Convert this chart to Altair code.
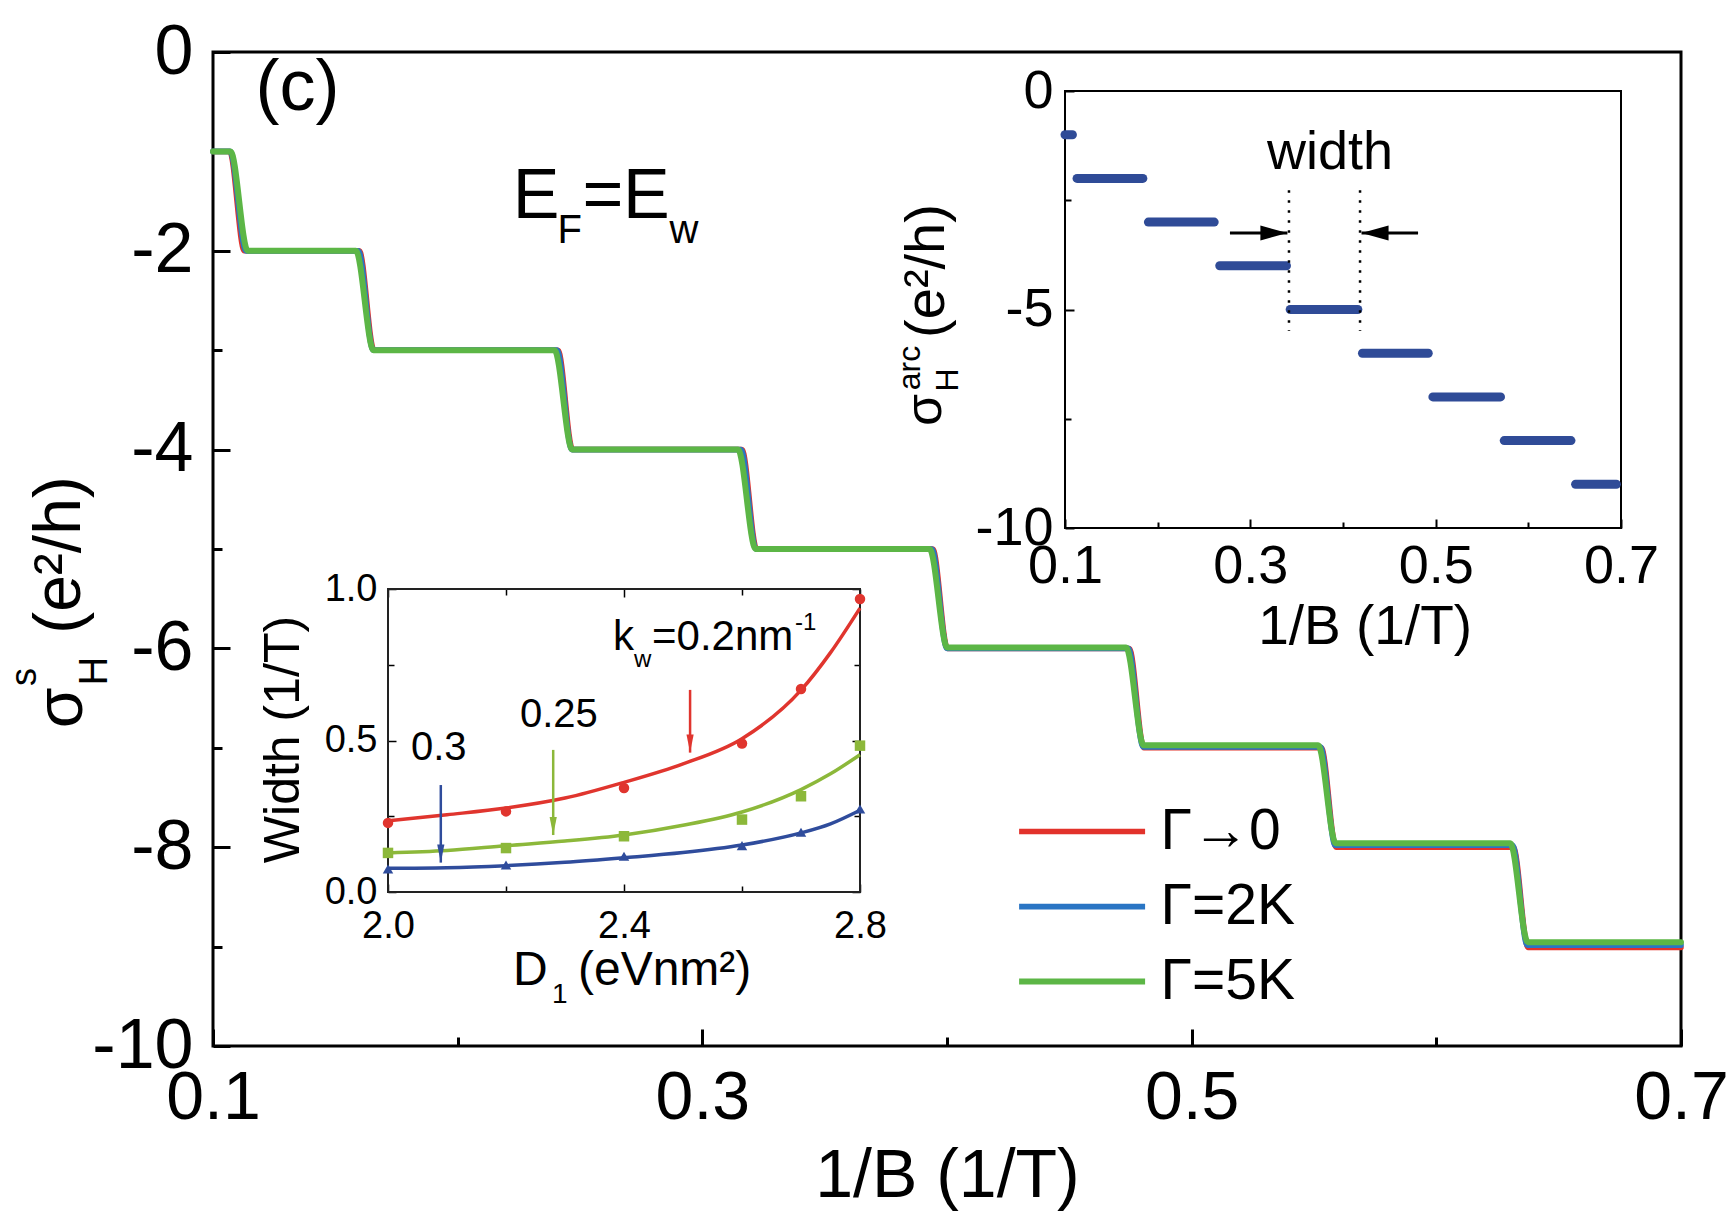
import altair as alt
import pandas as pd

# ------------------------------------------------------------------ data
# Main panel: sigma_H^s (e^2/h) against 1/B (1/T) for three broadenings.
# Every plateau is described by where it starts, where it ends and its level.
SERIES = ["Γ→0", "Γ=2K", "Γ=5K"]
SERIES_COLORS = ["#E2322B", "#2A75C4", "#5CB646"]
SERIES_WIDTHS = [5.5, 6.0, 7.5]

red_start = [0.1000, 0.1128, 0.1658, 0.2470, 0.3222, 0.4002, 0.4805, 0.5590, 0.6375]
red_end = [0.1068, 0.1598, 0.2410, 0.3162, 0.3942, 0.4745, 0.5530, 0.6315, 0.7000]
red_level = [-1, -2, -3, -4, -5, -6, -7.0, -8.0, -9.01]

blue_start = [0.1000, 0.1135, 0.1655, 0.2467, 0.3219, 0.4000, 0.4802, 0.5587, 0.6372]
blue_end = [0.1070, 0.1594, 0.2406, 0.3158, 0.3938, 0.4741, 0.5526, 0.6311, 0.7000]
blue_level = [-1, -2, -3, -4, -5, -6, -6.99, -7.98, -8.985]

green_start = [0.1000, 0.1142, 0.1656, 0.2468, 0.3218, 0.4001, 0.4804, 0.5589, 0.6374]
green_end = [0.1072, 0.1584, 0.2396, 0.3146, 0.3929, 0.4732, 0.5517, 0.6302, 0.7000]
green_level = [-1, -2, -3, -4, -5, -5.99, -6.975, -7.96, -8.955]

# Upper inset: sigma_H^arc plateaus (level, first and last 1/B of each bar)
arc_level = [-1, -2, -3, -4, -5, -6, -7, -8, -9]
arc_start = [0.100, 0.113, 0.190, 0.267, 0.343, 0.421, 0.497, 0.574, 0.651]
arc_end = [0.108, 0.184, 0.261, 0.339, 0.416, 0.492, 0.570, 0.646, 0.695]
width_edges = [0.3417, 0.4184]
width_edge_top = -2.27
width_edge_bottom = -5.49
width_arrow_level = -3.25
width_arrow_from = [0.278, 0.481]
width_arrow_to = [0.340, 0.420]

# Lower inset: plateau width (1/T) against D1 (eV nm^2)
K_LABELS = ["0.2", "0.25", "0.3"]
K_COLORS = ["#E0352E", "#8CB83A", "#2F4C9C"]
K_SHAPES = ["circle", "square", "triangle-up"]
d1_points = [2.0, 2.2, 2.4, 2.6, 2.7, 2.8]
width_k020 = [0.228, 0.266, 0.343, 0.490, 0.670, 0.967]
width_k025 = [0.129, 0.145, 0.184, 0.239, 0.316, 0.483]
width_k030 = [0.076, 0.089, 0.118, 0.153, 0.197, 0.274]
d1_fit = [2.0, 2.1, 2.2, 2.3, 2.4, 2.5, 2.6, 2.7, 2.75, 2.8]
fit_k020 = [0.235, 0.255, 0.277, 0.310, 0.362, 0.423, 0.506, 0.666, 0.790, 0.937]
fit_k025 = [0.129, 0.137, 0.153, 0.168, 0.188, 0.220, 0.264, 0.338, 0.390, 0.453]
fit_k030 = [0.078, 0.080, 0.087, 0.098, 0.113, 0.130, 0.155, 0.195, 0.225, 0.270]
marker_d1 = [2.512, 2.280, 2.0895]
marker_top = [0.667, 0.469, 0.353]
marker_tip = [0.460, 0.188, 0.097]

# ---------------------------------------------------------------- layout
W, H = 1468, 994
IN1_X, IN1_Y = [852, 1408], [476, 39]
IN2_X, IN2_Y = [175, 647], [840, 537]
NARROW = "Liberation Sans Narrow, Arial Narrow, Liberation Sans, sans-serif"
SANS = "Liberation Sans, Arial, sans-serif"
ARC_BLUE = "#2F4B97"


def lin(domain, rng=None):
    if rng is None:
        return alt.Scale(domain=domain, nice=False, zero=False)
    return alt.Scale(domain=domain, range=rng, nice=False, zero=False)


def main_x():
    return lin([0.1, 0.7])


def main_y():
    return lin([-10, 0])


def in1_x():
    return lin([0.1, 0.7], IN1_X)


def in1_y():
    return lin([-10, 0], IN1_Y)


def in2_x():
    return lin([2.0, 2.8], IN2_X)


def in2_y():
    return lin([0.0, 1.0], IN2_Y)


def tick_axis(orient, offset, values, test, major, minor, width):
    return alt.Axis(orient=orient, offset=offset, values=values, labels=False,
                    domain=False, grid=False, title=None, ticks=True,
                    tickColor="black", tickWidth=width,
                    tickSize={"condition": {"test": test, "value": major}, "value": minor})


def tick_layer(xs, ys, x_axis, y_axis, x0, y0):
    anchor = pd.DataFrame({"x": [x0], "y": [y0]})
    return alt.Chart(anchor).mark_point(opacity=0).encode(
        x=alt.X("x:Q", scale=xs, axis=x_axis),
        y=alt.Y("y:Q", scale=ys, axis=y_axis),
    )


# ------------------------------------------------------------ main panel
rows = []
for name, starts, ends, levels in [
    (SERIES[0], red_start, red_end, red_level),
    (SERIES[1], blue_start, blue_end, blue_level),
    (SERIES[2], green_start, green_end, green_level),
]:
    for s, e, v in zip(starts, ends, levels):
        rows.append({"series": name, "inv_b": s, "sigma": v})
        rows.append({"series": name, "inv_b": e, "sigma": v})
main_df = pd.DataFrame(rows)

main_lines = alt.Chart(main_df).mark_line(interpolate="monotone", strokeCap="round").encode(
    x=alt.X("inv_b:Q", scale=main_x(), axis=alt.Axis(
        orient="bottom", values=[0.1, 0.3, 0.5, 0.7], format=".1f", ticks=False,
        tickSize=0, domain=False, grid=False, labelFont=NARROW, labelFontSize=68,
        labelPadding=18, labelFlush=False, labelOverlap=False,
        title="1/B (1/T)", titleFont=SANS, titleFontSize=68, titleFontWeight="normal",
        titleBaseline="alphabetic", titleY=150)),
    y=alt.Y("sigma:Q", scale=main_y(), axis=alt.Axis(
        orient="left", values=[0, -2, -4, -6, -8, -10], labelExpr="'' + datum.value",
        ticks=False, tickSize=0, domain=False, grid=False, labelFont=NARROW,
        labelFontSize=70, labelPadding=20, labelFlush=False, title=None)),
    color=alt.Color("series:N", scale=alt.Scale(domain=SERIES, range=SERIES_COLORS),
                    legend=alt.Legend(orient="none", legendX=840.6, legendY=751, title=None,
                                      symbolType="M -4 0 L 4 0", symbolSize=992,
                                      symbolStrokeWidth=7, labelFont=SANS, labelFontSize=57,
                                      labelOffset=50, rowPadding=17, padding=0,
                                      labelColor="black", labelLimit=0)),
    strokeWidth=alt.StrokeWidth("series:N", scale=alt.Scale(domain=SERIES, range=SERIES_WIDTHS),
                                legend=None),
)

main_ticks = tick_layer(
    main_x(), main_y(),
    tick_axis("top", -H, [0.1, 0.2, 0.3, 0.4, 0.5, 0.6, 0.7],
              "round(datum.value*10) % 2 == 1", 17, 9, 3),
    tick_axis("right", -W, [0, -1, -2, -3, -4, -5, -6, -7, -8, -9, -10],
              "round(datum.value) % 2 == 0", 17, 9, 3),
    0.4, -5,
)

main_text_df = pd.DataFrame({
    "x": [0.1174, 0.2225, 0.2408, 0.2510, 0.2676, 0.2866],
    "y": [-0.584, -1.670, -1.9215, -1.670, -1.670, -1.9215],
    "label": ["(c)", "E", "F", "=", "E", "w"],
    "fs": [72, 70, 40, 70, 70, 40],
})
main_text = alt.Chart(main_text_df).mark_text(
    font=NARROW, align="left", baseline="alphabetic", color="black").encode(
    x=alt.X("x:Q", scale=main_x(), axis=None),
    y=alt.Y("y:Q", scale=main_y(), axis=None),
    text="label:N",
    size=alt.Size("fs:Q", scale=None),
)

# -------------------------------------------------------- upper inset
arc_df = pd.DataFrame({"start": arc_start, "end": arc_end, "level": arc_level})
arc_bars = alt.Chart(arc_df).mark_rule(strokeWidth=9, strokeCap="round", color=ARC_BLUE).encode(
    x=alt.X("start:Q", scale=in1_x(), axis=alt.Axis(
        orient="bottom", offset=-(H - IN1_Y[0]), values=[0.1, 0.3, 0.5, 0.7], format=".1f",
        ticks=False, tickSize=0, domain=False, grid=False, labelFont=NARROW,
        labelFontSize=54, labelPadding=11, labelFlush=False, labelOverlap=False,
        title="1/B (1/T)", titleFont=SANS, titleFontSize=55, titleFontWeight="normal",
        titleBaseline="alphabetic", titleX=1151.6, titleY=115)),
    x2="end:Q",
    y=alt.Y("level:Q", scale=in1_y(), axis=alt.Axis(
        orient="left", offset=-IN1_X[0], values=[0, -5, -10], labelExpr="'' + datum.value",
        ticks=False, tickSize=0, domain=False, grid=False, labelFont=NARROW,
        labelFontSize=54, labelPadding=12, labelFlush=False, title=None)),
)

in1_ticks = tick_layer(
    in1_x(), in1_y(),
    tick_axis("top", -IN1_Y[0], [0.1, 0.2, 0.3, 0.4, 0.5, 0.6, 0.7],
              "round(datum.value*10) % 2 == 1", 9, 6, 2),
    tick_axis("right", -(W - IN1_X[0]), [0, -2.5, -5, -7.5, -10],
              "round(datum.value*2) % 10 == 0", 9, 6, 2),
    0.4, -5,
)

frame1 = alt.Chart(pd.DataFrame({"x0": [0.1], "x1": [0.7], "y0": [-10], "y1": [0]})).mark_rect(
    fillOpacity=0, stroke="black", strokeWidth=2).encode(
    x=alt.X("x0:Q", scale=in1_x(), axis=None), x2="x1:Q",
    y=alt.Y("y0:Q", scale=in1_y(), axis=None), y2="y1:Q",
)

edges_df = pd.DataFrame({"x": width_edges, "top": [width_edge_top] * 2,
                         "bottom": [width_edge_bottom] * 2})
edges = alt.Chart(edges_df).mark_rule(strokeDash=[2.5, 7.5], strokeWidth=2.5, color="black").encode(
    x=alt.X("x:Q", scale=in1_x(), axis=None),
    y=alt.Y("top:Q", scale=in1_y(), axis=None), y2="bottom:Q",
)

w_arrow_df = pd.DataFrame({
    "x_from": width_arrow_from, "x_to": width_arrow_to,
    "y": [width_arrow_level] * 2,
    "head": ["M -2 -0.55 L 0 0 L -2 0.55 Z", "M 2 -0.55 L 0 0 L 2 0.55 Z"],
})
w_shafts = alt.Chart(w_arrow_df).mark_rule(strokeWidth=3, color="black").encode(
    x=alt.X("x_from:Q", scale=in1_x(), axis=None), x2="x_to:Q",
    y=alt.Y("y:Q", scale=in1_y(), axis=None),
)
w_heads = alt.Chart(w_arrow_df).mark_point(filled=True, opacity=1, color="black", size=729).encode(
    x=alt.X("x_to:Q", scale=in1_x(), axis=None),
    y=alt.Y("y:Q", scale=in1_y(), axis=None),
    shape=alt.Shape("head:N", scale=None),
)
w_label = alt.Chart(pd.DataFrame({"x": [0.386], "y": [-1.78], "label": ["width"]})).mark_text(
    font=SANS, fontSize=54, align="center", baseline="alphabetic", color="black").encode(
    x=alt.X("x:Q", scale=in1_x(), axis=None),
    y=alt.Y("y:Q", scale=in1_y(), axis=None),
    text="label:N",
)

# -------------------------------------------------------- lower inset
fit_rows, pt_rows = [], []
for k, col, shp, ys_fit, ys_pt in zip(K_LABELS, K_COLORS, K_SHAPES,
                                      [fit_k020, fit_k025, fit_k030],
                                      [width_k020, width_k025, width_k030]):
    for d, w in zip(d1_fit, ys_fit):
        fit_rows.append({"k": k, "color": col, "d1": d, "w": w})
    for d, w in zip(d1_points, ys_pt):
        pt_rows.append({"k": k, "color": col, "shape": shp, "d1": d, "w": w})
fit_df = pd.DataFrame(fit_rows)
pt_df = pd.DataFrame(pt_rows)

fits = alt.Chart(fit_df).mark_line(strokeWidth=3.5, interpolate="monotone").encode(
    x=alt.X("d1:Q", scale=in2_x(), axis=alt.Axis(
        orient="bottom", offset=-(H - IN2_Y[0]), values=[2.0, 2.4, 2.8], format=".1f",
        ticks=False, tickSize=0, domain=False, grid=False, labelFont=SANS,
        labelFontSize=38, labelPadding=15, labelFlush=False, labelOverlap=False, title=None)),
    y=alt.Y("w:Q", scale=in2_y(), axis=alt.Axis(
        orient="left", offset=-IN2_X[0], values=[0.0, 0.5, 1.0], format=".1f",
        ticks=False, tickSize=0, domain=False, grid=False, labelFont=SANS,
        labelFontSize=38, labelPadding=11, labelFlush=False,
        title="Width (1/T)", titleFont=SANS, titleFontSize=50, titleFontWeight="normal",
        titleAngle=270, titleBaseline="middle", titleAlign="center", titleX=-105, titleY=687)),
    color=alt.Color("color:N", scale=None),
    detail="k:N",
)
pts = alt.Chart(pt_df).mark_point(filled=True, opacity=1, size=110).encode(
    x=alt.X("d1:Q", scale=in2_x(), axis=None),
    y=alt.Y("w:Q", scale=in2_y(), axis=None),
    color=alt.Color("color:N", scale=None),
    shape=alt.Shape("shape:N", scale=None),
)

in2_ticks_a = tick_layer(
    in2_x(), in2_y(),
    tick_axis("top", -IN2_Y[0], [2.0, 2.2, 2.4, 2.6, 2.8],
              "round(datum.value*10) % 4 == 0", 8, 6, 1.5),
    tick_axis("right", -(W - IN2_X[0]), [0, 0.25, 0.5, 0.75, 1.0],
              "round(datum.value*4) % 2 == 0", 8, 6, 1.5),
    2.4, 0.5,
)
in2_ticks_b = tick_layer(
    in2_x(), in2_y(),
    tick_axis("bottom", -(H - IN2_Y[1]), [2.0, 2.2, 2.4, 2.6, 2.8],
              "round(datum.value*10) % 4 == 0", 8, 6, 1.5),
    tick_axis("left", -IN2_X[1], [0, 0.25, 0.5, 0.75, 1.0],
              "round(datum.value*4) % 2 == 0", 8, 6, 1.5),
    2.4, 0.5,
)

frame2 = alt.Chart(pd.DataFrame({"x0": [2.0], "x1": [2.8], "y0": [0.0], "y1": [1.0]})).mark_rect(
    fillOpacity=0, stroke="#222222", strokeWidth=2).encode(
    x=alt.X("x0:Q", scale=in2_x(), axis=None), x2="x1:Q",
    y=alt.Y("y0:Q", scale=in2_y(), axis=None), y2="y1:Q",
)

marker_df = pd.DataFrame({"d1": marker_d1, "top": marker_top, "tip": marker_tip,
                          "color": K_COLORS})
shafts = alt.Chart(marker_df).mark_rule(strokeWidth=2.5).encode(
    x=alt.X("d1:Q", scale=in2_x(), axis=None),
    y=alt.Y("top:Q", scale=in2_y(), axis=None), y2="tip:Q",
    color=alt.Color("color:N", scale=None),
)
heads = alt.Chart(marker_df).mark_point(filled=True, opacity=1, size=324,
                                         shape="M -0.4 -2 L 0 0 L 0.4 -2 Z").encode(
    x=alt.X("d1:Q", scale=in2_x(), axis=None),
    y=alt.Y("tip:Q", scale=in2_y(), axis=None),
    color=alt.Color("color:N", scale=None),
)

in2_text_df = pd.DataFrame({
    "x": [2.3814, 2.4169, 2.4475, 2.6898, 2.0390, 2.2237, 2.2119, 2.2780, 2.3220],
    "y": [0.7987, 0.7426, 0.7987, 0.8647, 0.4356, 0.5446, -0.307, -0.366, -0.307],
    "label": ["k", "w", "=0.2nm", "-1", "0.3", "0.25", "D", "1", "(eVnm²)"],
    "fs": [42, 24, 42, 24, 40, 40, 48, 28, 48],
})
in2_text = alt.Chart(in2_text_df).mark_text(
    font=SANS, align="left", baseline="alphabetic", color="black").encode(
    x=alt.X("x:Q", scale=in2_x(), axis=None),
    y=alt.Y("y:Q", scale=in2_y(), axis=None),
    text="label:N",
    size=alt.Size("fs:Q", scale=None),
)

# ------------------------------------- rotated y titles (pixel positions)
rot_df = pd.DataFrame({
    "px": [-151, -188, -118, -153, 712, 697, 735, 714],
    "py": [656, 625, 619, 503, 358, 316, 328, 219],
    "label": ["σ", "s", "H", "(e²/h)", "σ", "arc", "H", "(e²/h)"],
    "fs": [66, 36, 40, 66, 52, 32, 32, 56],
})
rot_text = alt.Chart(rot_df).mark_text(
    font=SANS, align="center", baseline="middle", angle=270, color="black").encode(
    x=alt.X("px:Q", scale=None, axis=None),
    y=alt.Y("py:Q", scale=None, axis=None),
    text="label:N",
    size=alt.Size("fs:Q", scale=None),
)

chart = alt.layer(
    main_lines, main_ticks, main_text,
    frame1, arc_bars, in1_ticks, edges, w_shafts, w_heads, w_label,
    frame2, fits, pts, in2_ticks_a, in2_ticks_b, shafts, heads, in2_text,
    rot_text,
).resolve_scale(
    x="independent", y="independent", color="independent",
    shape="independent", size="independent", strokeWidth="independent",
).properties(
    width=W, height=H,
    padding={"left": 213, "top": 52, "right": 53, "bottom": 171},
    autosize=alt.AutoSizeParams(type="none"),
    background="white",
).configure_view(
    stroke="black", strokeWidth=3,
).configure_axis(
    labelColor="black", titleColor="black", tickColor="black",
)

chart.save("out.html", embed_options={"renderer": "svg", "actions": False})
